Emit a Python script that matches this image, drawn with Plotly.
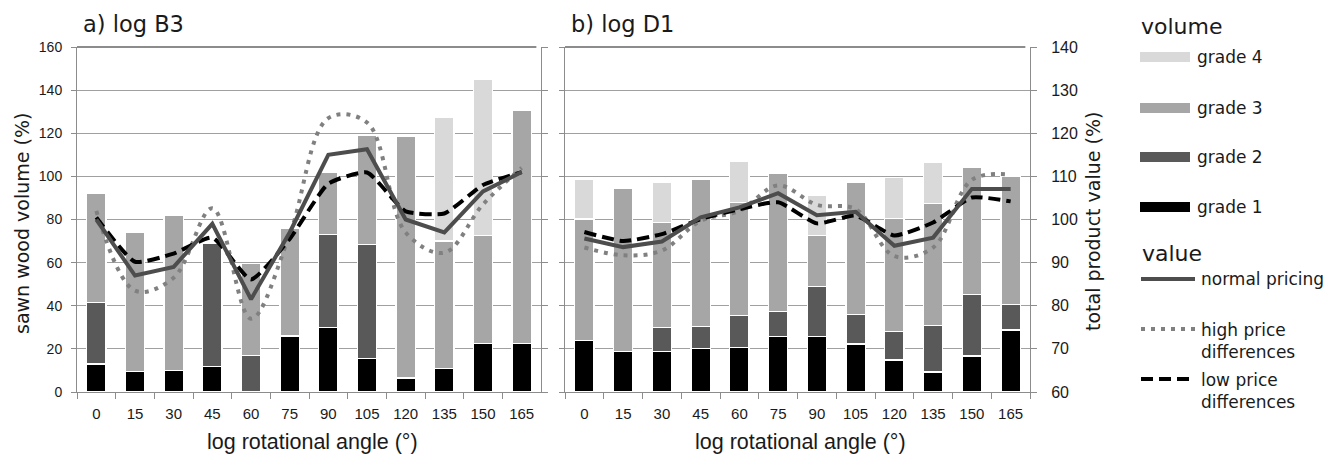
import plotly.graph_objects as go

W, H = 1340, 454

angles = ["0", "15", "30", "45", "60", "75", "90", "105", "120", "135", "150", "165"]

# log B3 – sawn wood volume by grade (%), stacked segment heights
b3_grade1 = [13, 9.5, 10, 12, 0, 26, 30, 15.5, 6.5, 11, 22.5, 22.5]
b3_grade2 = [28.5, 0, 0, 57, 17, 0, 43, 53, 0, 0, 0, 0]
b3_grade3 = [50.5, 64.5, 72, 0, 42.5, 50, 29, 50.5, 112, 59, 50, 108]
b3_grade4 = [0, 0, 0, 0, 0, 0, 0, 0, 0, 57.5, 72.5, 0]
# log B3 – total product value (%)
b3_normal = [100, 87, 89, 99, 81.5, 97, 115, 116.3, 100, 97, 106.5, 111]
b3_high = [102, 83.5, 86.5, 102.6, 77, 96.5, 123.5, 122.5, 97, 92.3, 103.5, 112]
b3_low = [100.5, 90.2, 92.1, 95.8, 86.1, 95.5, 108.3, 110.9, 101.9, 101.4, 108, 111]

# log D1 – sawn wood volume by grade (%)
d1_grade1 = [24, 18.7, 18.7, 20, 20.7, 25.7, 25.7, 22.3, 14.8, 9.3, 16.7, 28.8]
d1_grade2 = [0, 0, 11.2, 10.4, 14.6, 11.7, 23.3, 13.5, 13.2, 21.4, 28.7, 11.7]
d1_grade3 = [56.2, 75.8, 48.7, 68.4, 52.6, 64.2, 23.4, 61.2, 52.5, 56.9, 58.9, 59.4]
d1_grade4 = [18.6, 0, 18.7, 0, 19.2, 0, 19, 0, 19.1, 18.7, 0, 0]
# log D1 – total product value (%)
d1_normal = [95.6, 93.6, 94.9, 100.5, 102.8, 106.1, 101, 101.8, 93.9, 95.8, 107.1, 107.1]
d1_high = [93.5, 91.7, 92.8, 99.7, 102, 107.9, 103.4, 102.4, 91.5, 93.5, 109.2, 110.4]
d1_low = [97.1, 95, 96.6, 100.1, 102.4, 104, 99.1, 100.9, 96.3, 99.3, 105.1, 104.2]

grade_names = ["grade 1", "grade 2", "grade 3", "grade 4"]
grade_colors = ["#000000", "#595959", "#a6a6a6", "#d9d9d9"]
line_names = ["normal pricing", "high price<br>differences", "low price<br>differences"]

TICK_FONT = "Liberation Sans, Arial, sans-serif"
TEXT_FONT = "DejaVu Sans, Verdana, sans-serif"
TXT = "#1a1a1a"
GRID = "#a0a0a0"
AXL = "#8c8c8c"


def px(x):
    """screen pixel x -> paper fraction"""
    return x / W


def py(y):
    """screen pixel y -> paper fraction"""
    return 1 - y / H


fig = go.Figure()

panels = [
    ("x", "y", "y2", [b3_grade1, b3_grade2, b3_grade3, b3_grade4], b3_normal, b3_high, b3_low),
    ("x2", "y3", "y4", [d1_grade1, d1_grade2, d1_grade3, d1_grade4], d1_normal, d1_high, d1_low),
]

for xa, ya, ya2, grades, normal, high, low in panels:
    for vals, name, col in zip(grades, grade_names, grade_colors):
        fig.add_trace(go.Bar(
            x=angles, y=vals, name=name, xaxis=xa, yaxis=ya,
            marker=dict(color=col, line=dict(color="white", width=1.2)),
            showlegend=False,
        ))
    fig.add_trace(go.Scatter(
        x=angles, y=high, xaxis=xa, yaxis=ya2, mode="lines", showlegend=False,
        line=dict(color="#808080", width=4, dash="4px,6px", shape="spline", smoothing=1),
    ))
    fig.add_trace(go.Scatter(
        x=angles, y=low, xaxis=xa, yaxis=ya2, mode="lines", showlegend=False,
        line=dict(color="#000000", width=4, dash="12px,6px", shape="spline", smoothing=0.5),
    ))
    fig.add_trace(go.Scatter(
        x=angles, y=normal, xaxis=xa, yaxis=ya2, mode="lines", showlegend=False,
        line=dict(color="#4d4d4d", width=4),
    ))

ydom = [py(392), py(47)]
xdom_a = [px(77), px(541)]
xdom_b = [px(565), px(1030)]

xcommon = dict(
    type="category", categoryorder="array", categoryarray=angles,
    tickson="boundaries", ticks="outside", ticklen=6, tickcolor=AXL,
    showline=True, linecolor=AXL, mirror=False, showgrid=False,
    ticklabelstandoff=8,
    tickfont=dict(family=TICK_FONT, size=15, color=TXT), automargin=False,
)
yleft = dict(
    range=[0, 160], dtick=20, showgrid=True, gridcolor=GRID, gridwidth=1,
    showline=True, linecolor=AXL, ticks="outside", ticklen=5, tickcolor=AXL,
    zeroline=False, automargin=False, ticklabelstandoff=6,
    tickfont=dict(family=TICK_FONT, size=14, color=TXT),
)
yright = dict(
    range=[60, 140], dtick=10, showgrid=False, zeroline=False,
    showline=True, linecolor=AXL, ticks="outside", ticklen=6, tickcolor=AXL,
    automargin=False, side="right", ticklabelstandoff=11,
    tickfont=dict(family=TICK_FONT, size=16, color=TXT),
)

fig.update_layout(
    width=W, height=H,
    margin=dict(l=0, r=0, t=0, b=0),
    paper_bgcolor="white", plot_bgcolor="white",
    barmode="stack", bargap=0.5,
    showlegend=False,
    xaxis=dict(domain=xdom_a, anchor="y", **xcommon),
    xaxis2=dict(domain=xdom_b, anchor="y3", **xcommon),
    yaxis=dict(domain=ydom, anchor="x", showticklabels=True, **yleft),
    yaxis2=dict(overlaying="y", anchor="x", showticklabels=False, **yright),
    yaxis3=dict(domain=ydom, anchor="x2", showticklabels=False, **yleft),
    yaxis4=dict(overlaying="y3", anchor="x2", showticklabels=True, **yright),
)

ann = []
shapes = []

# darker top frame line of each panel
for xr, yr in (("x domain", "y domain"), ("x2 domain", "y3 domain")):
    shapes.append(dict(type="line", xref=xr, yref=yr, x0=0, x1=0.99, y0=1, y1=1,
                       line=dict(color="#666666", width=1.5)))


def text(x, y, s, size, angle=0, xanchor="left", yanchor="middle", family=TEXT_FONT):
    ann.append(dict(
        x=px(x), y=py(y), xref="paper", yref="paper", text=s, showarrow=False,
        xanchor=xanchor, yanchor=yanchor, textangle=angle, align="left",
        font=dict(family=family, size=size, color=TXT),
    ))


text(81, 24, "a) log B3", 22.5)
text(569, 24, "b) log D1", 22.5)
text(22, 224, "sawn wood volume (%)", 19, angle=-90, xanchor="center")
text(1093, 222, "total product value (%)", 19, angle=-90, xanchor="center")
text((77 + 541) / 2 + 3, 442, "log rotational angle (°)", 21.5, xanchor="center", family=TICK_FONT)
text((565 + 1030) / 2 + 3, 442, "log rotational angle (°)", 21.5, xanchor="center", family=TICK_FONT)

# legend (built manually to mirror the reference layout)
text(1139, 26, "volume", 22)
leg_y = [207, 157, 108, 57]
for name, col, yy in zip(grade_names, grade_colors, leg_y):
    shapes.append(dict(type="line", xref="paper", yref="paper",
                       x0=px(1140), x1=px(1190), y0=py(yy), y1=py(yy),
                       line=dict(color=col, width=10)))
    text(1195, yy, name, 17)

text(1140, 253, "value", 22)
line_styles = [
    (279, dict(color="#4d4d4d", width=4)),
    (329, dict(color="#808080", width=4, dash="4px,6px")),
    (379, dict(color="#000000", width=4, dash="12px,6px")),
]
for (yy, st), name in zip(line_styles, line_names):
    shapes.append(dict(type="line", xref="paper", yref="paper",
                       x0=px(1141), x1=px(1195), y0=py(yy), y1=py(yy), line=st))
    if "<br>" in name:
        text(1199, yy - 11, name, 17, yanchor="top")
    else:
        text(1199, yy, name, 17)

fig.update_layout(annotations=ann, shapes=shapes)

fig.write_html("out.html",
               config={"displayModeBar": False},
               post_script="document.body.style.margin='0';document.body.style.padding='0';")
